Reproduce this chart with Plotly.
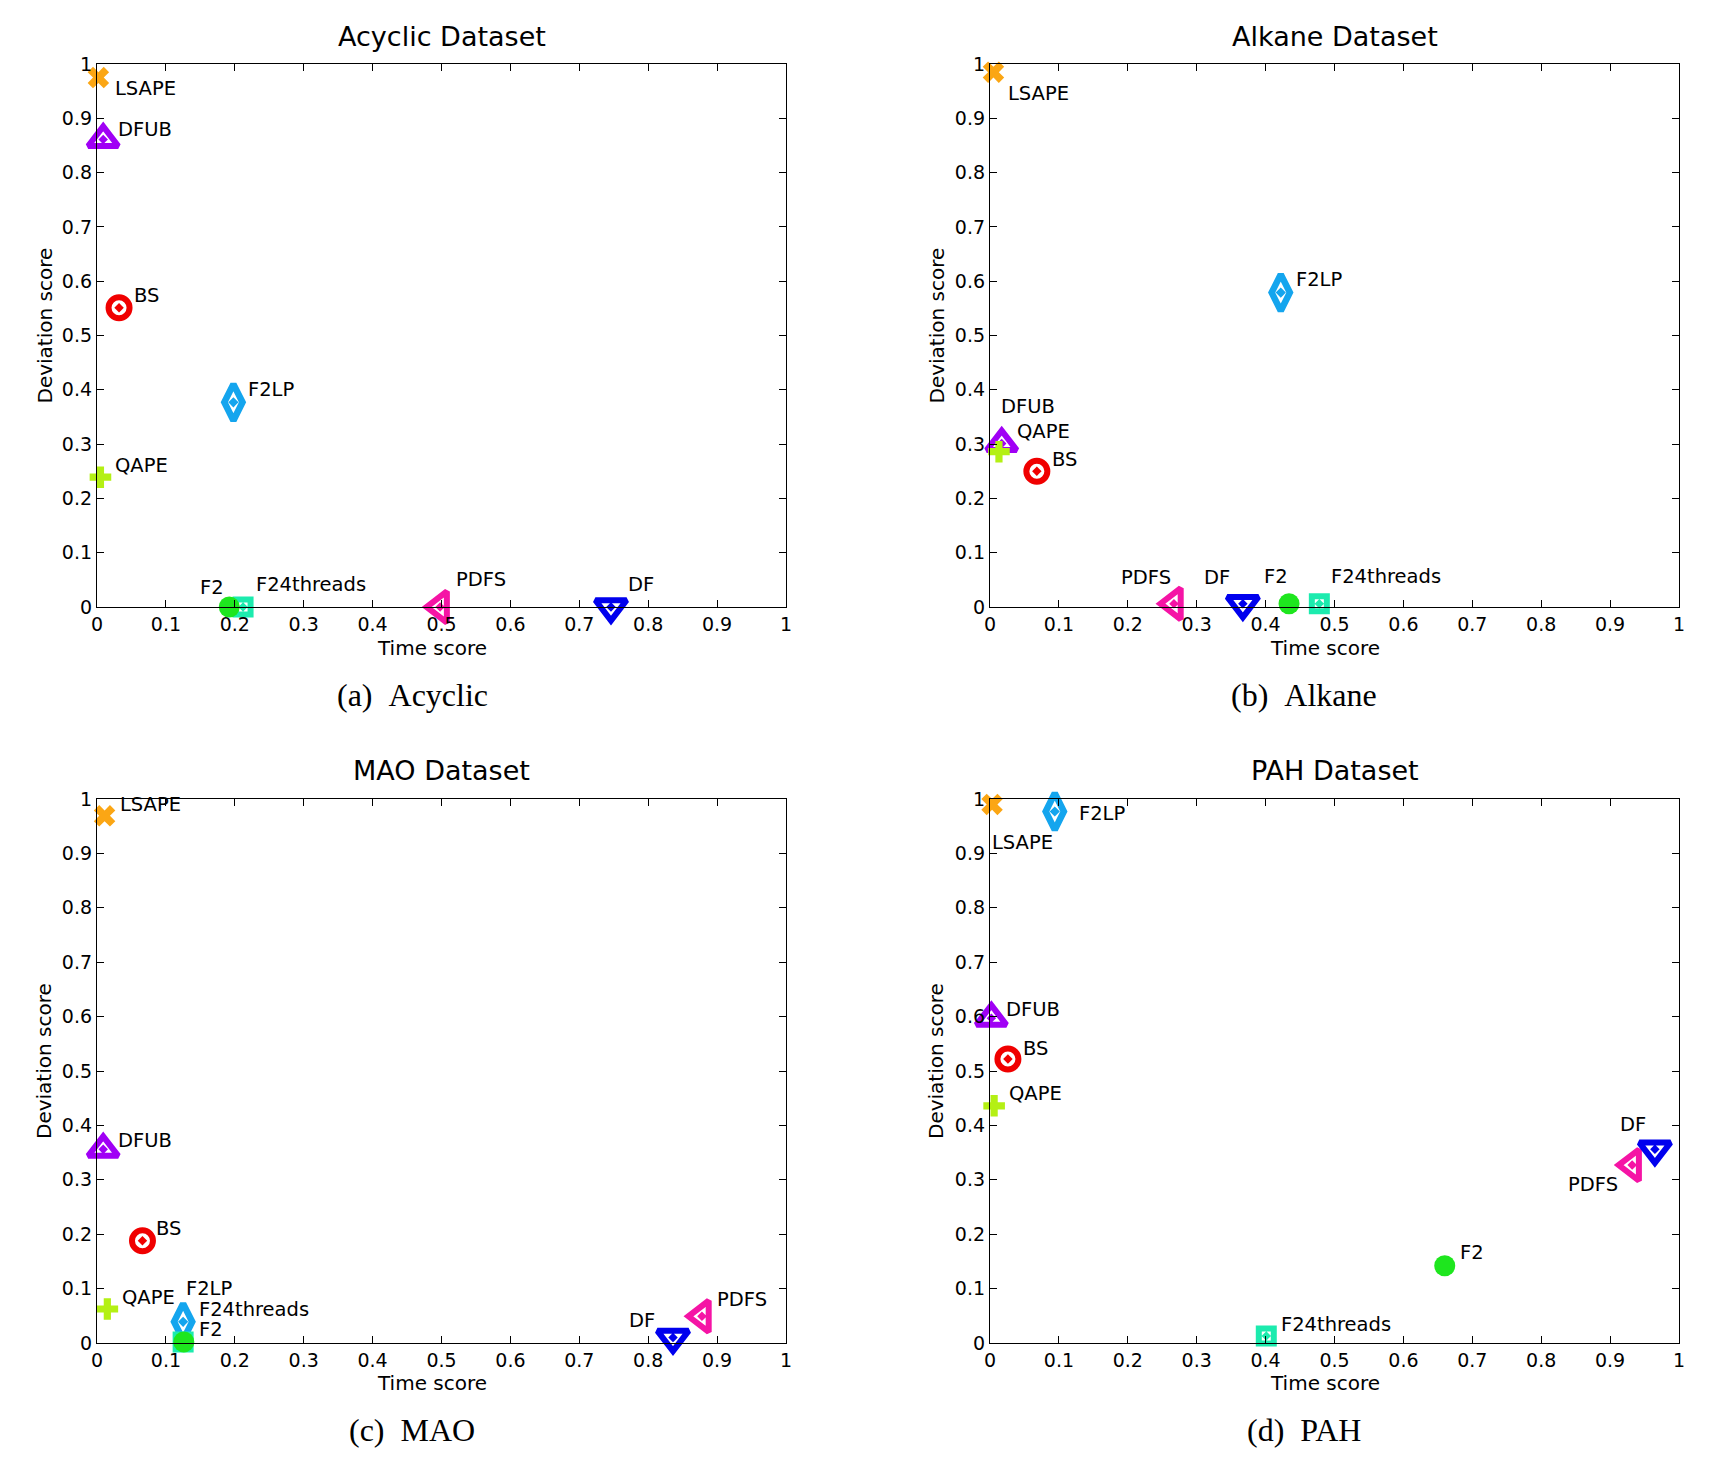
import plotly.graph_objects as go

# ---------------- data ----------------
methods = ["LSAPE", "DFUB", "BS", "F2LP", "QAPE", "F24threads", "F2", "PDFS", "DF"]

acyclic_time = [0.002, 0.009, 0.032, 0.198, 0.005, 0.212, 0.192, 0.498, 0.746]
acyclic_dev = [0.975, 0.861, 0.551, 0.377, 0.239, 0.0, 0.0, 0.0, 0.0]

alkane_time = [0.005, 0.017, 0.068, 0.422, 0.013, 0.478, 0.434, 0.267, 0.367]
alkane_dev = [0.985, 0.301, 0.250, 0.579, 0.286, 0.006, 0.006, 0.006, 0.006]

mao_time = [0.011, 0.009, 0.066, 0.125, 0.015, 0.125, 0.126, 0.878, 0.836]
mao_dev = [0.969, 0.356, 0.188, 0.039, 0.0625, 0.002, 0.002, 0.049, 0.010]

pah_time = [0.003, 0.002, 0.026, 0.094, 0.006, 0.401, 0.660, 0.932, 0.965]
pah_dev = [0.990, 0.597, 0.522, 0.977, 0.436, 0.013, 0.142, 0.327, 0.356]

panel_titles = ["Acyclic Dataset", "Alkane Dataset", "MAO Dataset", "PAH Dataset"]
captions = ["(a)\u00a0\u00a0Acyclic", "(b)\u00a0\u00a0Alkane", "(c)\u00a0\u00a0MAO", "(d)\u00a0\u00a0PAH"]
x_title = "Time score"
y_title = "Deviation score"
tick_vals = [0, 0.1, 0.2, 0.3, 0.4, 0.5, 0.6, 0.7, 0.8, 0.9, 1]
tick_text = ["0", "0.1", "0.2", "0.3", "0.4", "0.5", "0.6", "0.7", "0.8", "0.9", "1"]

datasets = [
    (acyclic_time, acyclic_dev),
    (alkane_time, alkane_dev),
    (mao_time, mao_dev),
    (pah_time, pah_dev),
]

# ---------------- styles ----------------
marker_style = {
    "LSAPE": dict(symbol="x", color="#FBA614", size=19, lw=0),
    "DFUB": dict(symbol="triangle-up-open-dot", color="#A000F5", size=26, lw=6),
    "BS": dict(symbol="circle-open-dot", color="#F00000", size=21, lw=6),
    "F2LP": dict(symbol="diamond-tall-open-dot", color="#14A5EE", size=26, lw=6.5),
    "QAPE": dict(symbol="cross", color="#B4F014", size=18, lw=0),
    "F24threads": dict(symbol="square-open-dot", color="#1CEBAE", size=15, lw=6),
    "F2": dict(symbol="circle", color="#1EE61E", size=21, lw=0),
    "PDFS": dict(symbol="triangle-left-open-dot", color="#F514A5", size=27, lw=6),
    "DF": dict(symbol="triangle-down-open-dot", color="#0000EE", size=27, lw=6),
}

# label placement per panel: method -> (xanchor, xshift px, yshift px down-positive)
label_pos = [
    {"LSAPE": ("left", 15, 11), "DFUB": ("left", 13, -10), "BS": ("left", 13, -12),
     "F2LP": ("left", 13, -13), "QAPE": ("left", 13, -12), "F2": ("right", -3, -20),
     "F24threads": ("left", 11, -23), "PDFS": ("left", 14, -28), "DF": ("left", 15, -23)},
    {"LSAPE": ("left", 13, 21), "DFUB": ("left", -3, -37), "BS": ("left", 13, -12),
     "F2LP": ("left", 13, -13), "QAPE": ("left", 16, -20), "F2": ("right", 1, -27),
     "F24threads": ("left", 10, -27), "PDFS": ("right", -1, -26), "DF": ("right", -11, -26)},
    {"LSAPE": ("left", 13, -11), "DFUB": ("left", 13, -9), "BS": ("left", 12, -12),
     "F2LP": ("left", 1, -33), "QAPE": ("left", 13, -12), "F2": ("left", 13, -12),
     "F24threads": ("left", 14, -32), "PDFS": ("left", 13, -17), "DF": ("right", -16, -17)},
    {"LSAPE": ("left", -2, 38), "DFUB": ("left", 13, -9), "BS": ("left", 13, -11),
     "F2LP": ("left", 22, 2), "QAPE": ("left", 13, -12), "F2": ("left", 13, -13),
     "F24threads": ("left", 13, -11), "PDFS": ("right", -12, 19), "DF": ("right", -7, -25)},
]

W, H = 1710, 1477
x_domains = [(97, 786), (990, 1679)]
y_domains = [(64, 607), (799, 1343)]
caption_x = [412, 1304]
caption_y = [695, 1430]
title_y = [36, 770]
xtitle_y = [648, 1383]
ytitle_x = [44, 936]

FONT = "DejaVu Sans"

fig = go.Figure()
annotations = []
layout_axes = {}


def paper(px, py):
    return px / W, 1 - py / H


for p, (tx, dv) in enumerate(datasets):
    col = p % 2
    row = p // 2
    idx = "" if p == 0 else str(p + 1)
    xa = "x" + idx
    ya = "y" + idx
    x0, x1 = x_domains[col]
    y0, y1 = y_domains[row]
    xdom = [x0 / W, x1 / W]
    ydom = [1 - y1 / H, 1 - y0 / H]

    common = dict(
        range=[0, 1], showgrid=False, zeroline=False, showline=True,
        linecolor="black", linewidth=1.3, mirror="ticks", ticks="inside",
        ticklen=7, tickwidth=1, tickcolor="black",
        tickvals=tick_vals, ticktext=tick_text,
        tickfont=dict(family=FONT, size=19, color="black"),
        fixedrange=True, automargin=False,
    )
    layout_axes["xaxis" + idx] = dict(common, domain=xdom, anchor=ya)
    layout_axes["yaxis" + idx] = dict(common, domain=ydom, anchor=xa)

    for m, xv, yv in zip(methods, tx, dv):
        st = marker_style[m]
        fig.add_trace(go.Scatter(
            x=[xv], y=[yv], mode="markers", name=m, xaxis=xa, yaxis=ya,
            cliponaxis=False, showlegend=False,
            marker=dict(symbol=st["symbol"], color=st["color"], size=st["size"],
                        line=dict(color=st["color"], width=st["lw"])),
        ))
        anc, dx, dy = label_pos[p][m]
        annotations.append(dict(
            x=xv, y=yv, xref=xa, yref=ya, text=m, showarrow=False,
            xanchor=anc, yanchor="middle", xshift=dx, yshift=-dy,
            font=dict(family=FONT, size=19.5, color="black"),
        ))

    # axis titles
    ax_, ay_ = paper((x0 + x1) / 2 - 10, xtitle_y[row])
    annotations.append(dict(
        x=ax_, y=ay_, xref="paper", yref="paper", text=x_title, showarrow=False,
        xanchor="center", yanchor="middle",
        font=dict(family=FONT, size=20, color="black"),
    ))
    bx_, by_ = paper(ytitle_x[col], (y0 + y1) / 2 - 10)
    annotations.append(dict(
        x=bx_, y=by_, xref="paper", yref="paper", text=y_title, showarrow=False,
        xanchor="center", yanchor="middle", textangle=-90,
        font=dict(family=FONT, size=20, color="black"),
    ))
    # panel title
    tx_, ty_ = paper((x0 + x1) / 2, title_y[row])
    annotations.append(dict(
        x=tx_, y=ty_, xref="paper", yref="paper",
        text=panel_titles[p], showarrow=False, xanchor="center", yanchor="middle",
        font=dict(family=FONT, size=27, color="black"),
    ))
    # caption
    cx_, cy_ = paper(caption_x[col], caption_y[row])
    annotations.append(dict(
        x=cx_, y=cy_, xref="paper", yref="paper",
        text=captions[p], showarrow=False, xanchor="center", yanchor="middle",
        font=dict(family="Liberation Serif", size=32, color="black"),
    ))

fig.update_layout(
    template="none",
    width=W, height=H,
    margin=dict(l=0, r=0, t=0, b=0, pad=0),
    paper_bgcolor="white", plot_bgcolor="white",
    showlegend=False,
    annotations=annotations,
    **layout_axes,
)

fig.write_html("out.html", config={"displayModeBar": False})
